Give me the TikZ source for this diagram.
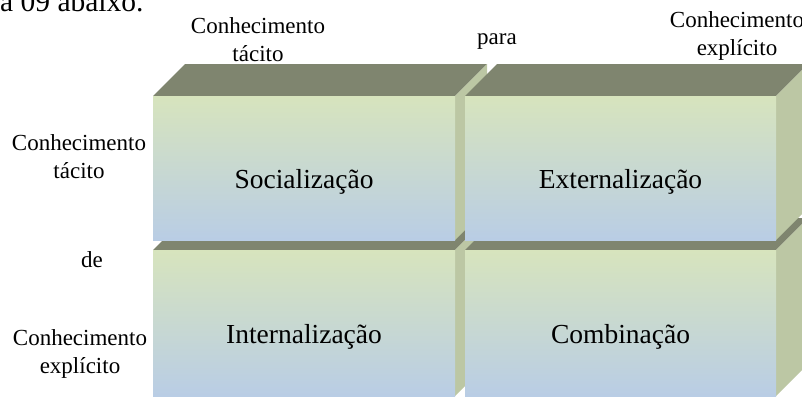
\documentclass[tikz,border=0pt]{standalone}
\usepackage{fontspec}
\setmainfont{Liberation Serif}
\definecolor{topo}{RGB}{127,133,111}
\definecolor{lado}{RGB}{188,199,164}
\definecolor{verdeclaro}{RGB}{215,228,189}
\definecolor{azulclaro}{RGB}{185,205,229}
\begin{document}
\begin{tikzpicture}[x=1pt,y=-1pt,
  topoface/.style={fill=topo},
  ladoface/.style={fill=lado},
  frente/.style={top color=verdeclaro, bottom color=azulclaro},
  rotulo/.style={font=\fontsize{27.5}{32}\selectfont},
  legenda/.style={font=\fontsize{23}{28}\selectfont, align=center}]
\useasboundingbox (0,0) rectangle (802,396);
% resto da frase do texto, cortada em cima
\node[anchor=base west, font=\fontsize{29.5}{34}\selectfont, inner sep=0] (abaixo) at (0,12) {a 09 abaixo.};
% os quatro blocos: linha de baixo primeiro
\foreach \xa/\ya/\lg/\alt/\nome/\texto in {153/250/302/146/int/Internalização, 465/250/311/146/comb/Combinação, 153/96/302/144/soc/Socialização, 465/96/311/144/ext/Externalização}{
  \fill[topoface] (\xa,\ya) -- ++(\lg,0) -- ++(32,-32) -- ++(-\lg,0) -- cycle;
  \fill[ladoface] (\xa+\lg,\ya) -- ++(32,-32) -- ++(0,\alt) -- ++(-32,32) -- cycle;
  \shade[frente] (\xa,\ya) rectangle ++(\lg,\alt);
  \node[rotulo] (\nome) at (\xa+\lg/2,\ya+\alt/2+14) {\texto};
}
% legendas
\node[legenda] (tacitoTopo) at (258,40) {Conhecimento\\tácito};
\node[legenda] (para) at (497,42) {para};
\node[legenda] (explicitoTopo) at (737,36) {Conhecimento\\explícito};
\node[legenda] (tacitoLado) at (79,157) {Conhecimento\\tácito};
\node[legenda] (de) at (92,260) {de};
\node[legenda] (explicitoLado) at (80,354) {Conhecimento\\explícito};
\end{tikzpicture}
\end{document}
